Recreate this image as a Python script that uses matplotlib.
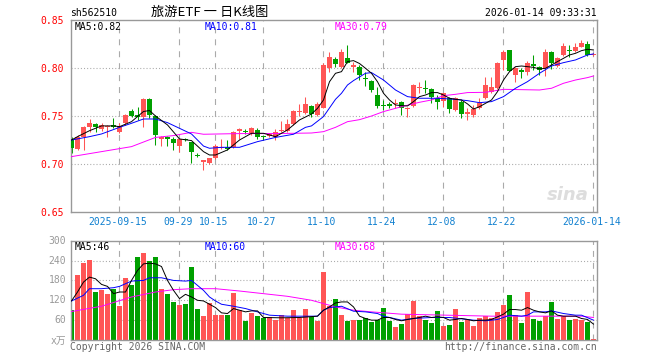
import matplotlib
matplotlib.use('Agg')
import matplotlib.pyplot as plt

plt.rcParams['lines.scale_dashes'] = False

# ---- data (index = trading day, 2025-09-03 .. 2026-01-14)
opens = [0.7253, 0.7156, 0.7288, 0.7385, 0.7420, 0.7365, 0.7385, 0.7410, 0.7340, 0.7427,
         0.7556, 0.7517, 0.7497, 0.7680, 0.7500, 0.7264, 0.7288, 0.7260, 0.7190, 0.7264,
         0.7230, 0.7097, 0.7028, 0.7010, 0.7063, 0.7174, 0.7177, 0.7180, 0.7350, 0.7350,
         0.7323, 0.7358, 0.7290, 0.7295, 0.7288, 0.7350, 0.7350, 0.7420, 0.7540, 0.7531,
         0.7608, 0.7514, 0.7583, 0.8000, 0.8097, 0.8017, 0.8104, 0.8017, 0.8017, 0.7896,
         0.7870, 0.7722, 0.7618, 0.7625, 0.7629, 0.7653, 0.7576, 0.7608, 0.7799, 0.7792,
         0.7781, 0.7687, 0.7660, 0.7694, 0.7566, 0.7653, 0.7528, 0.7510, 0.7583, 0.7688,
         0.7757, 0.7792, 0.8087, 0.8191, 0.7931, 0.7983, 0.7965, 0.8042, 0.8010, 0.8000,
         0.8174, 0.8024, 0.8139, 0.8191, 0.8184, 0.8226, 0.8253, 0.8139]
highs = [0.7288, 0.7306, 0.7400, 0.7472, 0.7427, 0.7427, 0.7410, 0.7480, 0.7427, 0.7524,
         0.7573, 0.7601, 0.7694, 0.7690, 0.7514, 0.7300, 0.7300, 0.7288, 0.7264, 0.7271,
         0.7236, 0.7115, 0.7045, 0.7068, 0.7208, 0.7264, 0.7253, 0.7350, 0.7375, 0.7365,
         0.7385, 0.7375, 0.7295, 0.7330, 0.7365, 0.7455, 0.7472, 0.7566, 0.7628, 0.7705,
         0.7620, 0.7653, 0.8052, 0.8174, 0.8115, 0.8198, 0.8243, 0.8070, 0.8035, 0.7965,
         0.7878, 0.7810, 0.7670, 0.7653, 0.7677, 0.7660, 0.7601, 0.7837, 0.7861, 0.7878,
         0.7792, 0.7722, 0.7747, 0.7705, 0.7705, 0.7670, 0.7583, 0.7618, 0.7694, 0.7913,
         0.7913, 0.8070, 0.8191, 0.8195, 0.8017, 0.8007, 0.8080, 0.8139, 0.8024, 0.8200,
         0.8180, 0.8122, 0.8260, 0.8243, 0.8260, 0.8300, 0.8280, 0.8160]
lows = [0.7122, 0.7149, 0.7149, 0.7340, 0.7340, 0.7350, 0.7280, 0.7375, 0.7330, 0.7410,
        0.7490, 0.7462, 0.7392, 0.7480, 0.7205, 0.7190, 0.7190, 0.7150, 0.7130, 0.7240,
        0.7017, 0.7080, 0.6944, 0.7003, 0.7060, 0.7160, 0.7150, 0.7175, 0.7264, 0.7316,
        0.7306, 0.7260, 0.7250, 0.7280, 0.7253, 0.7340, 0.7340, 0.7410, 0.7503, 0.7520,
        0.7490, 0.7500, 0.7583, 0.7965, 0.8017, 0.8000, 0.8052, 0.7965, 0.7878, 0.7816,
        0.7757, 0.7583, 0.7566, 0.7590, 0.7590, 0.7514, 0.7497, 0.7601, 0.7740, 0.7740,
        0.7635, 0.7580, 0.7601, 0.7538, 0.7560, 0.7479, 0.7462, 0.7490, 0.7576, 0.7680,
        0.7740, 0.7780, 0.7983, 0.7970, 0.7861, 0.7896, 0.7931, 0.7983, 0.7931, 0.7920,
        0.7990, 0.8010, 0.8130, 0.8122, 0.8175, 0.8220, 0.8130, 0.8130]
closes = [0.7167, 0.7288, 0.7385, 0.7427, 0.7392, 0.7410, 0.7400, 0.7392, 0.7400, 0.7514,
          0.7503, 0.7490, 0.7680, 0.7514, 0.7306, 0.7288, 0.7264, 0.7226, 0.7260, 0.7253,
          0.7125, 0.7087, 0.7040, 0.7063, 0.7190, 0.7177, 0.7160, 0.7340, 0.7365, 0.7337,
          0.7378, 0.7288, 0.7281, 0.7313, 0.7340, 0.7358, 0.7420, 0.7559, 0.7559, 0.7628,
          0.7524, 0.7628, 0.8035, 0.8122, 0.8045, 0.8174, 0.8052, 0.8035, 0.7930, 0.7885,
          0.7774, 0.7610, 0.7608, 0.7611, 0.7642, 0.7583, 0.7590, 0.7826, 0.7810, 0.7781,
          0.7705, 0.7653, 0.7740, 0.7573, 0.7688, 0.7524, 0.7540, 0.7573, 0.7642, 0.7826,
          0.7809, 0.8052, 0.8174, 0.7976, 0.8000, 0.7965, 0.8059, 0.8028, 0.7983, 0.8174,
          0.8052, 0.8104, 0.8233, 0.8184, 0.8226, 0.8260, 0.8139, 0.8150]
volumes = [90, 195, 232, 241, 145, 151, 139, 154, 103, 187,
           166, 251, 263, 239, 251, 154, 139, 116, 105, 108,
           221, 94, 72, 112, 75, 75, 75, 142, 90, 57,
           81, 72, 66, 69, 60, 75, 66, 90, 66, 93,
           69, 57, 204, 102, 123, 75, 57, 60, 60, 66,
           54, 60, 96, 57, 39, 48, 78, 117, 72, 60,
           51, 87, 42, 45, 93, 54, 60, 42, 66, 72,
           66, 84, 105, 135, 75, 51, 144, 63, 57, 72,
           114, 63, 72, 60, 63, 60, 54, 3]

# moving-average lines, sampled at (index, value)
ma5_pts = [(0, .7253), (1, .7288), (3, .735), (5, .740), (7, .740), (8, .7392), (10, .7444),
           (12, .755), (13, .756), (14, .7503), (16, .741), (18, .7264), (20, .7247),
           (22, .7132), (23, .7097), (24, .7097), (26, .715), (28, .7253), (30, .7323),
           (32, .7323), (34, .7288), (36, .7358), (38, .7462), (40, .7524), (41, .7583),
           (42, .767), (43, .786), (44, .7948), (45, .7965), (46, .807), (47, .808),
           (48, .805), (49, .800), (50, .7948), (51, .786), (52, .774), (53, .767),
           (54, .7618), (55, .7611), (56, .7608), (57, .7653), (58, .7705), (59, .7722),
           (60, .7747), (61, .7747), (62, .7722), (63, .7688), (64, .7677), (65, .767),
           (66, .7629), (67, .7576), (68, .760), (69, .7635), (70, .767), (71, .7757),
           (72, .7878), (73, .7965), (74, .8017), (75, .8024), (76, .8017), (77, .801),
           (78, .7993), (79, .800), (80, .8035), (81, .807), (82, .8104), (83, .8139),
           (84, .8156), (85, .8184), (86, .8198), (87, .8191)]
ma10_pts = [(0, .7253), (3, .7288), (5, .7316), (8, .7385), (10, .7427), (12, .7472),
            (14, .7472), (16, .7434), (18, .7375), (20, .7316), (22, .719), (23, .7167),
            (25, .7177), (28, .7177), (31, .7236), (34, .728), (37, .7313), (39, .7385),
            (40, .740), (42, .7497), (44, .7677), (45, .7740), (46, .7826), (47, .7872),
            (49, .7948), (50, .7955), (52, .7878), (54, .7774), (56, .7705), (58, .7688),
            (61, .7688), (64, .7677), (66, .7663), (68, .7642), (70, .7653), (72, .7705),
            (74, .7792), (76, .7861), (78, .7948), (80, .8024), (82, .8059), (84, .8087),
            (86, .8139), (87, .815)]
ma30_pts = [(0, .708), (5, .7132), (10, .7184), (14, .728), (17, .7299), (20, .7333),
            (22, .7313), (28, .732), (34, .732), (40, .7326), (42, .734), (44, .7385),
            (46, .7444), (48, .7465), (50, .7503), (52, .7549), (55, .760), (58, .7646),
            (60, .767), (62, .7715), (64, .7729), (66, .7747), (69, .775), (72, .7781),
            (78, .7774), (80, .7792), (82, .7844), (84, .7878), (86, .7903), (87, .792)]
vma5_pts = [(0, 118), (1, 145), (2, 175), (3, 190), (4, 185), (5, 168), (6, 162), (7, 140),
            (8, 145), (9, 145), (10, 180), (11, 210), (12, 230), (13, 232), (14, 230),
            (15, 222), (16, 180), (17, 150), (18, 125), (19, 138), (20, 130), (21, 120),
            (22, 118), (23, 108), (24, 98), (25, 82), (26, 80), (27, 95), (28, 90), (29, 85),
            (30, 88), (31, 88), (32, 68), (35, 67), (38, 68), (41, 72), (42, 90), (43, 100),
            (44, 112), (45, 115), (46, 115), (47, 100), (48, 72), (49, 65), (50, 60),
            (51, 60), (52, 68), (53, 68), (54, 62), (55, 58), (56, 62), (57, 65), (58, 68),
            (59, 72), (60, 68), (61, 70), (62, 68), (63, 60), (64, 62), (65, 65), (66, 62),
            (67, 58), (68, 60), (69, 60), (70, 62), (71, 70), (72, 78), (73, 92), (74, 92),
            (75, 90), (76, 98), (77, 90), (78, 85), (79, 82), (80, 88), (81, 75), (82, 72),
            (83, 72), (84, 72), (85, 65), (86, 62), (87, 48)]
vma10_pts = [(0, 118), (2, 135), (3, 155), (5, 155), (7, 158), (8, 162), (10, 178),
             (12, 180), (13, 188), (15, 188), (17, 180), (19, 178), (20, 180), (21, 165),
             (22, 150), (23, 130), (24, 118), (25, 108), (27, 102), (29, 95), (31, 85),
             (33, 75), (36, 72), (39, 72), (41, 72), (42, 90), (43, 98), (45, 102), (47, 87),
             (49, 85), (51, 80), (52, 72), (53, 68), (55, 60), (57, 65), (60, 68), (63, 68),
             (65, 64), (67, 60), (69, 58), (71, 62), (72, 68), (73, 75), (75, 72), (76, 75),
             (77, 85), (79, 85), (80, 88), (82, 80), (84, 75), (85, 75), (87, 60)]
vma30_pts = [(0, 86), (5, 102), (10, 130), (14, 145), (17, 152), (20, 155), (24, 155),
             (28, 148), (32, 140), (36, 132), (40, 120), (44, 100), (47, 90), (50, 85),
             (55, 78), (60, 76), (65, 74), (70, 72), (75, 72), (80, 72), (85, 72), (87, 68)]

tick_idx = [8, 18, 24, 32, 42, 52, 62, 72, 87]
tick_lbl = ['2025-09-15', '09-29', '10-15', '10-27', '11-10', '11-24', '12-08', '12-22', '2026-01-14']
price_ticks = [0.85, 0.80, 0.75, 0.70, 0.65]
vol_ticks = [300, 240, 180, 120, 60]

UP, DOWN = '#FF5555', '#00A000'
GRID = '#AAAAAA'
MONO = 'DejaVu Sans Mono'
W, H = 660, 360


def rect(l, t, r, b):
    return [l / W, 1 - b / H, (r - l) / W, (b - t) / H]


def ftext(x, y, s, **kw):
    kw.setdefault('family', MONO)
    kw.setdefault('fontsize', 7)
    kw.setdefault('va', 'center')
    fig.text(x / W, 1 - y / H, s, **kw)


def style_axes(ax):
    for sp in ax.spines.values():
        sp.set_color('#999999')
        sp.set_linewidth(1)
    ax.set_xticks([])
    ax.set_yticks([])
    ax.set_xlim((70.7 - 71.5) / 6, (596.7 - 71.5) / 6)
    for t in tick_idx:
        ax.axvline(t, color=GRID, lw=0.8, ls=(0, (4.3, 4.3)), zorder=0)


def draw_pts(ax, pts, color):
    xs = [p[0] for p in pts]
    ys = [p[1] for p in pts]
    ax.plot(xs, ys, color=color, lw=0.7, zorder=4)


fig = plt.figure(figsize=(6.6, 3.6), dpi=100)
fig.patch.set_facecolor('white')

# ---- price panel
ax = fig.add_axes(rect(70.7, 20.3, 596.7, 212.3))
style_axes(ax)
ax.set_ylim(0.65, 0.85)
for p in price_ticks[1:-1]:
    ax.axhline(p, color=GRID, lw=0.8, ls=(0, (0.75, 1.5)), zorder=0)

n = len(closes)
for i in range(n):
    c = UP if closes[i] >= opens[i] else DOWN
    ax.vlines(i, lows[i], highs[i], color=c, lw=0.75, zorder=2)
    lo = min(opens[i], closes[i])
    h = max(abs(closes[i] - opens[i]), 0.0011)
    ax.bar(i, h, bottom=lo, width=0.8, color=c, zorder=3, linewidth=0)

draw_pts(ax, ma30_pts, '#FF00FF')
draw_pts(ax, ma10_pts, '#0000FF')
draw_pts(ax, ma5_pts, '#000000')

ax.text(0.985, 0.09, 'sina', transform=ax.transAxes, ha='right', va='center',
        fontsize=13, fontstyle='italic', fontweight='bold', color='#DDDDDD', zorder=1)

# ---- volume panel
vx = fig.add_axes(rect(70.7, 240.7, 596.7, 340))
style_axes(vx)
vx.set_ylim(0, 300)
for v in vol_ticks[1:]:
    vx.axhline(v, color=GRID, lw=0.8, ls=(0, (0.75, 1.5)), zorder=0)
for i in range(n):
    c = UP if closes[i] >= opens[i] else DOWN
    vx.bar(i, volumes[i], width=0.83, color=c, linewidth=0, zorder=2)
draw_pts(vx, vma30_pts, '#FF00FF')
draw_pts(vx, vma10_pts, '#0000FF')
draw_pts(vx, vma5_pts, '#000000')

# ---- texts
ftext(70, 13, 'sh562510', ha='left')
ftext(210, 12, '旅游ETF 一 日K线图', ha='center', family=['Noto Sans CJK SC', 'DejaVu Sans'],
      fontsize=9.5)
ftext(597, 13, '2026-01-14 09:33:31', ha='right')

for p in price_ticks:
    y = 20.3 + (0.85 - p) * 960
    ftext(64, y + 1, '%.2f' % p, ha='right', color='#FF0000')

ftext(75, 27, 'MA5:0.82', ha='left', color='#000000')
ftext(205, 27, 'MA10:0.81', ha='left', color='#0000FF')
ftext(335, 27, 'MA30:0.79', ha='left', color='#FF00FF')

for t, lbl in zip(tick_idx, tick_lbl):
    ftext(71.5 + 6 * t - 1.5, 222, lbl, ha='center', color='#1080D0')

for v in vol_ticks:
    y = 340 - v * (340 - 240.7) / 300
    ftext(66, y, str(v), ha='right', color='#999999')
ftext(66, 341, 'x万', ha='right', color='#999999',
      family=['DejaVu Sans Mono', 'Noto Sans CJK SC'])

ftext(75, 247, 'MA5:46', ha='left', color='#000000')
ftext(205, 247, 'MA10:60', ha='left', color='#0000FF')
ftext(335, 247, 'MA30:68', ha='left', color='#FF00FF')

ftext(70, 347, 'Copyright 2026 SINA.COM', ha='left', color='#666666')
ftext(597, 347, 'http://finance.sina.com.cn', ha='right', color='#666666')

fig.savefig('out.png', dpi=100)
